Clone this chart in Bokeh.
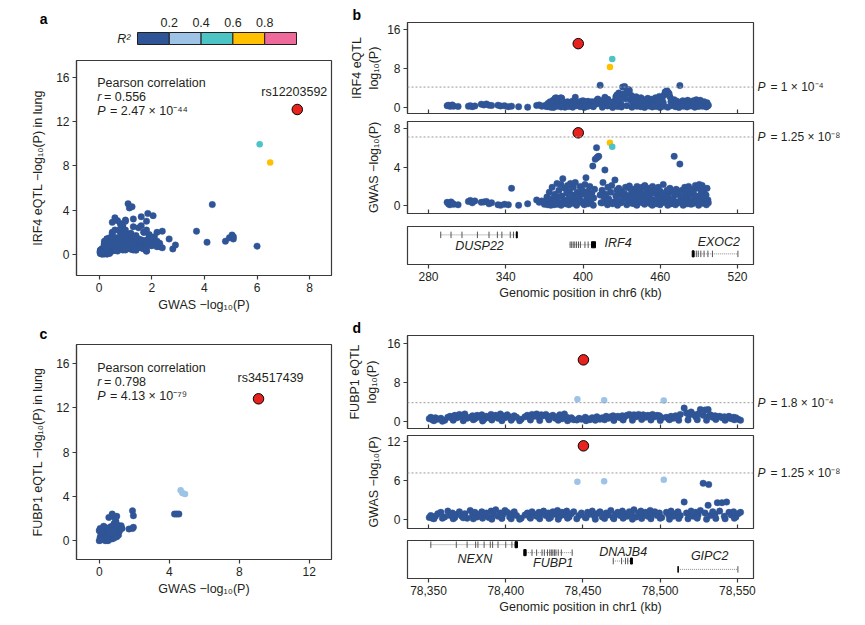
from bokeh.plotting import figure
from bokeh.layouts import row, column
from bokeh.models import Range1d, FixedTicker, Label, Span, NumeralTickFormatter, LinearAxis
from bokeh.embed import file_html
from bokeh.resources import INLINE
from bokeh.core.properties import value

FONT = "Liberation Sans"
INK = "#231f20"
FRAME = "#3a3a3a"
R2_BREAKS = [0.0, 0.2, 0.4, 0.6, 0.8, 1.0]
R2_TICKS = [0.2, 0.4, 0.6, 0.8]
R2_COLORS = ["#2f5597", "#9dc3e6", "#4cc3c4", "#ffc000", "#ee6a9b"]
LEAD_RED = "#e8231f"

# ---------------- chr6 / IRF4 locus (panels a, b) ----------------
chr6_left_pos = [294.5, 295.5, 296.5, 297.5, 298.5, 299.5, 303, 311, 312.5, 314,
                 316, 321, 323, 325, 327, 329, 334, 336, 339, 342,
                 344.5, 350, 357, 364, 366, 368, 370]
chr6_left_gwas = [0.35, 0.2, 0.1, 0.4, 0.25, 0.15, 0.1, 0.45, 0.55, 0.3,
                  0.5, 0.35, 0.4, 0.45, 0.2, 0.3, 0.1, 0.05, 0.15, 0.1,
                  1.8, 0.05, 0.2, 0.6, 0.35, 0.5, 0.15]
chr6_left_eqtl = [0.4, 0.5, 0.3, 0.35, 0.55, 0.3, 0.25, 0.3, 0.4, 0.2,
                  0.35, 0.7, 0.55, 0.75, 0.5, 0.45, 0.5, 0.35, 0.4, 0.2,
                  0.3, 0.2, 0.1, 0.45, 0.55, 0.3, 0.4]

chr6_core_pos = [371.0, 372.0, 373.0, 373.8, 374.5, 375.3, 376.0, 376.8, 377.5, 378.3,
                 379.0, 379.8, 380.5, 381.3, 382.0, 382.8, 383.5, 384.3, 385.0, 385.8,
                 386.5, 387.3, 388.0, 388.8, 389.5, 390.3, 391.0, 391.8, 392.5, 393.3,
                 394.0, 394.8, 395.5, 397.0, 397.8, 398.5, 399.3, 400.0, 400.8, 401.5,
                 402.3, 403.0, 403.8, 404.5, 405.3, 406.0, 406.8, 407.6, 408.3, 409.0,
                 409.5, 410.5, 410.8, 411.5, 412.2, 413.3, 414.0, 414.8, 415.5, 416.3,
                 417.0, 417.8, 418.5, 419.3, 420.0, 421.5, 422.3, 423.8, 424.8, 425.5,
                 426.3, 427.0, 427.8, 428.5, 429.3, 430.0, 430.8, 431.5, 432.3, 433.0,
                 433.8, 434.5, 435.3, 436.0, 436.8, 437.5, 438.3, 439.0, 439.8, 440.5,
                 441.3, 442.0, 442.8, 443.5, 444.3, 445.0, 445.8, 446.5, 447.3, 448.0,
                 448.8, 449.5, 450.3, 451.0, 451.8, 452.5, 453.3, 454.0, 454.8, 455.5,
                 456.3, 457.0, 457.8, 458.5, 459.3, 460.0, 460.8, 461.5, 462.3, 463.0,
                 463.8, 464.5, 465.3, 466.0, 466.8, 467.5, 468.3, 469.0, 469.8, 470.8,
                 471.5, 472.3, 473.0, 473.8, 475.2, 476.0, 476.8, 477.5, 478.3, 479.0,
                 479.8, 480.5, 481.3, 482.0, 482.8, 483.5, 484.3, 485.0, 485.8, 486.5,
                 487.3, 488.0, 488.8, 489.5, 490.3, 491.0, 491.8, 492.5, 493.3, 494.0,
                 494.8, 495.5, 496.3, 497.0]
chr6_core_gwas = [0.4, 0.9, 0.2, 1.4, 0.6, 0.3, 1.9, 0.8, 0.1, 1.2,
                  0.5, 2.3, 0.9, 1.6, 0.3, 2.2, 1.0, 2.8, 0.6, 1.8,
                  0.2, 1.3, 2.1, 0.7, 1.5, 2.3, 0.4, 1.1, 1.9, 0.8,
                  2.4, 0.3, 1.4, 0.9, 2.0, 0.5, 1.6, 1.2, 0.2, 2.2,
                  2.9, 0.7, 1.5, 1.0, 2.0, 0.4, 1.3, 4.1, 0.8, 1.7,
                  4.8, 6.0, 4.95, 5.05, 5.1, 1.1, 0.3, 1.6, 2.4, 0.9,
                  3.7, 1.2, 0.5, 1.9, 0.7, 1.4, 2.1, 0.4, 2.66, 1.0,
                  1.6, 0.6, 1.8, 1.2, 0.3, 1.5, 1.15, 0.8, 1.25, 1.9,
                  0.7, 1.0, 1.85, 2.05, 0.5, 1.3, 0.9, 1.7, 0.2, 1.4,
                  0.6, 2.0, 1.1, 0.4, 1.6, 0.8, 1.9, 0.3, 1.2, 2.1,
                  0.7, 1.5, 0.5, 1.8, 1.0, 0.2, 1.4, 2.0, 0.6, 1.3,
                  1.7, 0.4, 1.1, 1.9, 0.8, 1.5, 0.3, 1.2, 2.2, 0.9,
                  1.3, 0.6, 1.6, 1.0, 0.5, 1.8, 0.2, 1.4, 0.7, 5.1,
                  1.1, 1.7, 0.4, 1.3, 4.3, 0.8, 1.6, 0.3, 1.0, 1.9,
                  0.6, 1.4, 0.9, 2.0, 0.5, 1.2, 1.7, 0.2, 1.5, 0.8,
                  2.1, 1.0, 0.4, 1.8, 2.2, 0.7, 1.3, 2.1, 0.9, 1.6,
                  0.3, 1.1, 1.8, 0.6]
chr6_core_eqtl = [0.3, 0.6, 0.9, 0.4, 1.2, 0.5, 0.8, 1.5, 0.2, 1.9,
                  2.0, 1.0, 1.8, 0.6, 1.4, 2.0, 1.9, 0.5, 1.1, 0.3,
                  0.8, 0.4, 1.2, 0.6, 1.0, 0.7, 0.3, 1.3, 0.9, 0.5,
                  2.1, 1.1, 0.8, 0.4, 1.0, 1.3, 0.6, 1.4, 0.9, 1.2,
                  0.85, 0.3, 1.3, 0.7, 1.1, 0.5, 1.2, 1.1, 0.6, 0.9,
                  1.2, 0.75, 1.5, 1.75, 1.4, 4.58, 0.8, 1.3, 0.6, 1.6,
                  2.1, 0.5, 1.0, 1.7, 1.2, 0.4, 1.1, 0.7, 1.4, 2.2,
                  2.6, 1.5, 3.0, 1.9, 0.9, 2.4, 4.2, 2.8, 4.3, 1.8,
                  3.05, 3.0, 3.7, 3.5, 1.6, 2.5, 1.2, 2.0, 0.8, 1.5,
                  2.2, 1.0, 1.8, 0.6, 1.3, 2.0, 0.9, 1.4, 0.5, 1.6,
                  1.1, 0.7, 1.9, 1.2, 0.4, 1.0, 1.7, 0.8, 1.3, 0.6,
                  2.0, 1.5, 0.9, 1.4, 2.3, 1.1, 0.5, 1.8, 1.0, 2.6,
                  3.2, 3.3, 3.4, 3.1, 2.9, 2.2, 1.2, 1.6, 0.8, 1.6,
                  1.0, 0.5, 1.3, 0.7, 4.5, 1.1, 0.6, 1.4, 0.9, 1.2,
                  0.4, 1.0, 1.5, 0.8, 1.2, 0.5, 1.1, 0.8, 1.4, 0.6,
                  1.0, 1.6, 0.9, 1.3, 0.7, 1.5, 1.1, 0.9, 0.5, 1.2,
                  0.8, 0.6, 1.0, 0.4]

chr6_low_pos = [372.5, 375.0, 377.0, 380.0, 383.0, 386.0, 389.0, 392.0, 395.0, 398.0,
                401.0, 404.0, 408.0, 415.0, 419.0, 423.0, 426.8, 429.8, 434.0, 438.0,
                441.8, 444.8, 447.8, 450.8, 453.8, 456.8, 459.8, 462.8, 465.8, 468.8,
                471.8, 474.5, 477.8, 480.8, 483.8, 486.8, 489.8, 492.8, 495.8, 497.3]
chr6_low_gwas = [0.1, 0.05, 0.3, 0.15, 0.05, 0.4, 0.1, 0.25, 0.05, 0.35,
                 0.1, 0.2, 0.05, 0.3, 0.1, 0.2, 0.05, 0.35, 0.1, 0.25,
                 0.05, 0.4, 0.15, 0.3, 0.05, 0.2, 0.1, 0.35, 0.05, 0.25,
                 0.1, 0.3, 0.05, 0.2, 0.15, 0.35, 0.05, 0.25, 0.1, 0.3]
chr6_low_eqtl = [0.2, 0.1, 0.05, 0.3, 0.15, 0.1, 0.25, 0.1, 0.4, 0.2,
                 0.05, 0.3, 0.2, 0.1, 0.35, 0.05, 0.25, 0.15, 0.4, 0.1,
                 0.3, 0.2, 0.05, 0.35, 0.15, 0.25, 0.05, 0.3, 0.1, 0.4,
                 0.2, 0.05, 0.3, 0.15, 0.35, 0.1, 0.25, 0.3, 0.15, 0.5]

# linked SNPs coloured by R^2 (first = lead SNP rs12203592)
chr6_hit_pos = [396.3, 420.9, 422.7]
chr6_hit_gwas = [7.53, 6.5, 6.1]
chr6_hit_eqtl = [13.08, 8.3, 9.95]
chr6_hit_r2 = [1.0, 0.7, 0.5]
chr6_lead_name = "rs12203592"
chr6_eqtl_threshold = 4.2
chr6_gwas_threshold = 7.1
chr6_eqtl_thr_text = "= 1 × 10⁻⁴"
chr6_gwas_thr_text = "= 1.25 × 10⁻⁸"

chr6_genes = ["DUSP22", "IRF4", "EXOC2"]
chr6_gene_start = [289.3, 389.5, 484.8]
chr6_gene_end = [348.9, 409.7, 520.5]
chr6_gene_exons = [[289.5, 297.5, 306, 318, 327, 333.5, 337, 343.5, 346, 348.7],
                   [390, 391.2, 392.4, 393.6, 395, 396.5, 398, 401.5, 404],
                   [488, 489.5, 491.5, 494, 497, 500.5, 520.3]]
chr6_gene_block = [[348.2, 348.9], [406.6, 409.7], [484.8, 486.3]]

# ---------------- chr1 / FUBP1 locus (panels c, d) ----------------
chr1_pos = [78350.5, 78351.5, 78352.5, 78354.5, 78356.0, 78358.0, 78360.5, 78362.5, 78364.0, 78365.5,
            78367.0, 78368.5, 78370.0, 78371.5, 78373.5, 78375.0, 78377.0, 78378.5, 78380.0, 78381.5,
            78383.0, 78384.5, 78386.0, 78387.5, 78389.0, 78390.5, 78392.0, 78393.5, 78395.0, 78396.5,
            78398.0, 78399.5, 78401.0, 78402.5, 78404.0, 78405.5, 78407.0, 78410.0, 78412.5, 78414.0,
            78415.5, 78417.0, 78418.5, 78420.0, 78421.5, 78423.0, 78424.5, 78426.0, 78427.5, 78429.0,
            78430.5, 78432.0, 78433.5, 78435.0, 78436.5, 78438.0, 78439.5, 78441.0, 78442.5, 78444.0,
            78447.5, 78449.0, 78451.5, 78453.0, 78454.5, 78456.0, 78457.5, 78459.0, 78461.0, 78462.5,
            78465.0, 78466.5, 78468.0, 78469.5, 78471.0, 78472.5, 78474.0, 78475.5, 78477.0, 78478.5,
            78480.0, 78481.5, 78483.0, 78484.5, 78486.0, 78487.5, 78489.0, 78490.5, 78492.0, 78493.5,
            78495.0, 78496.5, 78498.0, 78499.5, 78501.0, 78504.0, 78505.5, 78507.0, 78508.5, 78510.0,
            78511.5, 78513.0, 78515.5, 78517.0, 78518.5, 78520.0, 78521.5, 78523.0, 78524.5, 78526.0,
            78527.8, 78529.0, 78531.0, 78531.4, 78532.5, 78534.0, 78535.5, 78537.0, 78538.5, 78540.0,
            78541.5, 78543.0, 78544.5, 78546.0, 78547.5, 78549.0, 78550.5, 78552.0]
chr1_gwas = [0.3, 0.6, 0.2, 0.5, 0.9, 1.1, 0.4, 1.3, 0.6, 1.0,
             0.3, 0.8, 1.2, 0.5, 0.9, 0.2, 1.4, 0.7, 1.1, 0.4,
             0.8, 1.2, 0.6, 1.0, 0.3, 1.3, 0.8, 1.5, 0.5, 1.0,
             0.7, 1.4, 1.1, 0.4, 0.9, 1.2, 0.6, 0.2, 0.7, 1.0,
             0.4, 1.2, 0.8, 0.5, 1.1, 0.9, 1.3, 0.6, 1.0, 0.3,
             1.2, 0.8, 1.4, 0.5, 1.1, 0.7, 1.3, 0.4, 0.9, 1.2,
             0.6, 1.0, 0.3, 1.1, 0.8, 1.3, 0.5, 0.9, 1.2, 0.4,
             1.0, 0.7, 1.4, 0.3, 0.8, 1.1, 0.6, 1.3, 0.9, 0.5,
             1.2, 0.8, 1.5, 0.4, 1.0, 1.3, 0.7, 1.1, 0.5, 1.4,
             0.9, 1.2, 0.6, 1.0, 0.3, 1.1, 0.7, 1.3, 0.5, 0.9,
             1.2, 0.6, 2.7, 1.0, 0.8, 1.3, 0.5, 1.1, 0.7, 1.4,
             5.6, 1.0, 2.2, 5.4, 0.6, 1.2, 0.8, 2.6, 1.3, 2.6,
             0.5, 2.7, 1.1, 0.7, 1.2, 0.4, 0.9, 1.1]
chr1_eqtl = [0.6, 0.9, 0.4, 0.8, 0.5, 0.7, 0.3, 0.9, 1.1, 0.6,
             1.3, 0.8, 1.5, 1.0, 1.6, 0.7, 0.9, 1.2, 0.6, 1.3,
             0.9, 1.4, 0.5, 1.1, 0.8, 1.5, 1.0, 1.3, 0.7, 1.6,
             1.2, 0.8, 1.4, 1.0, 0.6, 1.2, 0.9, 0.5, 1.0, 1.3,
             0.8, 1.5, 1.1, 1.6, 0.9, 1.4, 1.2, 1.5, 0.8, 1.1,
             1.3, 0.7, 1.0, 1.4, 0.6, 1.6, 0.9, 0.5, 0.8, 0.4,
             0.7, 0.5, 0.9, 0.6, 0.4, 0.8, 0.6, 1.0, 0.5, 0.8,
             1.1, 0.7, 1.0, 1.2, 0.9, 1.1, 0.8, 1.2, 1.0, 1.3,
             1.5, 1.1, 1.4, 1.0, 1.5, 1.2, 1.4, 0.9, 1.3, 1.1,
             1.5, 1.0, 1.3, 1.2, 0.8, 0.9, 0.6, 1.1, 0.7, 1.2,
             0.9, 1.5, 2.8, 1.8, 1.3, 2.0, 1.5, 1.0, 1.6, 2.5,
             1.3, 2.4, 2.5, 1.1, 1.4, 0.9, 1.2, 1.0, 1.1, 0.8,
             1.0, 0.7, 1.1, 0.6, 0.9, 0.8, 0.5, 0.3]

chr1_low_pos = [78353.5, 78359.0, 78366.0, 78372.5, 78379.0, 78385.0, 78391.0, 78397.5, 78403.5, 78409.0,
                78416.0, 78422.0, 78428.0, 78434.0, 78440.0, 78446.0, 78452.0, 78458.0, 78464.0, 78470.0,
                78476.0, 78482.0, 78488.0, 78494.0, 78500.0, 78506.0, 78512.0, 78518.0, 78524.0, 78530.0,
                78536.0, 78542.0, 78548.0]
chr1_low_gwas = [0.1, 0.2, 0.1, 0.25, 0.1, 0.2, 0.05, 0.15, 0.1, 0.05,
                 0.2, 0.1, 0.15, 0.05, 0.2, 0.1, 0.25, 0.05, 0.15, 0.1,
                 0.2, 0.05, 0.15, 0.1, 0.2, 0.05, 0.15, 0.1, 0.2, 0.05,
                 0.15, 0.1, 0.2]
chr1_low_eqtl = [0.2, 0.1, 0.3, 0.2, 0.4, 0.15, 0.35, 0.2, 0.3, 0.2,
                 0.35, 0.25, 0.4, 0.3, 0.2, 0.35, 0.2, 0.3, 0.4, 0.25,
                 0.35, 0.3, 0.45, 0.35, 0.25, 0.4, 0.3, 0.35, 0.4, 0.3,
                 0.45, 0.3, 0.4]

chr1_hit_pos = [78450.3, 78446.4, 78463.7, 78502.3]
chr1_hit_gwas = [11.4, 5.85, 5.9, 6.15]
chr1_hit_eqtl = [12.7, 4.6, 4.4, 4.35]
chr1_hit_r2 = [1.0, 0.3, 0.3, 0.3]
chr1_lead_name = "rs34517439"
chr1_eqtl_threshold = 3.9
chr1_gwas_threshold = 7.2
chr1_eqtl_thr_text = "= 1.8 × 10⁻⁴"
chr1_gwas_thr_text = "= 1.25 × 10⁻⁸"

# panel c correlation scatter (GWAS vs FUBP1 eQTL)
c_gwas = [0.0, 0.05, 0.1, 0.0, 0.05, 0.15, 0.2, 0.25, 0.2, 0.3,
          0.3, 0.35, 0.4, 0.45, 0.4, 0.5, 0.55, 0.5, 0.6, 0.55,
          0.65, 0.7, 0.75, 0.7, 0.8, 0.75, 0.85, 0.9, 0.95, 0.9,
          1.0, 1.05, 0.95, 1.1, 1.15, 1.2, 1.25, 0.15, 0.35, 0.6,
          0.25, 0.8, 1.0, 0.45, 0.1, 0.65, 0.85, 0.55, 0.74, 0.9,
          1.0, 1.3, 1.7, 1.9, 1.95, 1.9, 1.95, 4.3, 4.42, 4.55]
c_eqtl = [0.0, 0.3, 0.6, 0.9, 1.1, 0.2, 0.5, 0.8, 1.0, 1.2,
          0.1, 0.4, 0.7, 0.95, 1.15, 0.0, 0.3, 0.6, 0.85, 1.05,
          1.25, 0.15, 0.45, 0.75, 1.0, 1.3, 1.55, 0.3, 0.6, 0.9,
          1.15, 1.4, 1.75, 0.5, 0.85, 1.1, 1.35, 0.75, 0.0, 0.5,
          1.3, 0.2, 0.35, 0.25, 0.05, 0.95, 0.7, 2.1, 2.4, 2.05,
          2.2, 1.1, 1.05, 1.1, 1.2, 2.7, 2.25, 2.4, 2.4, 2.4]
c_hit_gwas = [9.1, 4.65, 4.75, 4.9]
c_hit_eqtl = [12.8, 4.55, 4.3, 4.2]
c_hit_r2 = [1.0, 0.3, 0.3, 0.3]

chr1_genes = ["NEXN", "FUBP1", "DNAJB4", "GIPC2"]
chr1_gene_start = [78351.3, 78411.7, 78469.5, 78511.6]
chr1_gene_end = [78407.4, 78443.2, 78482.0, 78550.4]
chr1_gene_exons = [[78351.5, 78368, 78375, 78380.5, 78382, 78386, 78390, 78391.5, 78395, 78400, 78404],
                   [78417, 78420, 78423.5, 78425, 78427, 78428.5, 78429.5, 78430.5, 78431.5, 78432.5, 78434, 78436, 78443],
                   [78469.6, 78475, 78477.5, 78479],
                   [78511.7, 78550.3]]
chr1_gene_block = [[78406.0, 78407.6], [78411.7, 78413.2], [78480.8, 78482.0], [78511.6, 78511.6]]

# gene-track layout (row heights / name placement in the 0..1 track)
chr6_track_row = [0.78, 0.52, 0.28]
chr6_name_x = [319.6, 427.3, 505.5]
chr6_name_y = [0.50, 0.56, 0.59]
chr1_track_row = [0.89, 0.68, 0.46, 0.24]
chr1_name_x = [78380.0, 78430.7, 78476.0, 78532.0]
chr1_name_y = [0.52, 0.40, 0.69, 0.58]


def r2_color(v):
    for i in range(5):
        if v < R2_BREAKS[i + 1]:
            return R2_COLORS[i]
    return R2_COLORS[-1]


def style_axis(ax):
    ax.axis_line_color = FRAME
    ax.axis_line_width = 1.2
    ax.major_tick_line_color = FRAME
    ax.major_tick_line_width = 1.2
    ax.minor_tick_line_color = None
    ax.major_tick_out = 4
    ax.major_tick_in = 0
    ax.major_label_text_font = FONT
    ax.major_label_text_font_size = "12px"
    ax.major_label_text_color = INK
    ax.major_label_standoff = 3
    ax.axis_label_text_font = FONT
    ax.axis_label_text_font_size = "12.5px"
    ax.axis_label_text_font_style = "normal"
    ax.axis_label_text_color = INK
    ax.axis_label_standoff = 3


def new_fig(fw, fh, xr, yr, bl, br, bt, bb):
    p = figure(frame_width=fw, frame_height=fh, x_range=xr, y_range=yr,
               min_border_left=bl, min_border_right=br, min_border_top=bt, min_border_bottom=bb,
               toolbar_location=None, output_backend="svg", tools="")
    p.outline_line_color = FRAME
    p.outline_line_width = 1.2
    p.grid.visible = False
    for ax in p.axis:
        style_axis(ax)
    return p


def panel_letter(p, letter, offset, standoff=0):
    p.title.text = letter
    p.title.align = "left"
    p.title.offset = offset
    p.title.standoff = standoff
    p.title.text_font = FONT
    p.title.text_font_size = "14px"
    p.title.text_font_style = "bold"
    p.title.text_color = "black"


def hide_x_labels(p):
    ax = p.xaxis[0]
    ax.major_tick_in = 4
    ax.major_tick_out = 0
    ax.major_label_text_color = None
    ax.major_label_standoff = 0


def threshold_note(p, level, text):
    # italic "P" followed by the rest of the annotation, placed on the right of the frame
    for txt, style, standoff in (("P", "italic", 4), (text, "normal", 2)):
        ax = LinearAxis(ticker=FixedTicker(ticks=[level]), major_label_overrides={level: txt})
        style_axis(ax)
        ax.axis_line_color = None
        ax.major_tick_line_color = None
        ax.major_tick_out = 0
        ax.major_label_standoff = standoff
        ax.major_label_text_font_style = style
        ax.major_label_text_font_size = "12px"
        p.add_layout(ax, "right")
    p.add_layout(Span(location=level, dimension="width", line_color="#9a9a9a",
                      line_dash="2 2", line_width=1))


def label(p, x, y, text, size="12.5px", style="normal", align="left", units="screen", **kw):
    p.add_layout(Label(x=x, y=y, x_units=units, y_units=units, text=text, text_font=FONT,
                       text_font_size=size, text_font_style=style, text_align=align,
                       text_baseline="middle", text_color=INK, **kw))


def bulk(p, xs, ys):
    p.scatter(xs, ys, size=6.5, fill_color=R2_COLORS[0], line_color=R2_COLORS[0], line_width=0.4)


def hits(p, xs, ys, r2):
    p.scatter(xs[1:], ys[1:], size=6.5, fill_color=[r2_color(v) for v in r2[1:]],
              line_color=None)
    p.scatter(xs[:1], ys[:1], size=10.5, fill_color=LEAD_RED, line_color="black", line_width=1)


def gene_track(p, starts, ends, exons, blocks, rows, names, nx, ny):
    p.segment(starts, rows, ends, rows, line_color="#8a8a8a", line_width=1, line_dash="1 1")
    ex_x, ex_y0, ex_y1 = [], [], []
    for g, lst in enumerate(exons):
        for e in lst:
            ex_x.append(e)
            ex_y0.append(rows[g] - 0.085)
            ex_y1.append(rows[g] + 0.085)
    p.segment(ex_x, ex_y0, ex_x, ex_y1, line_color="#555555", line_width=1)
    p.quad(left=[b[0] for b in blocks], right=[b[1] for b in blocks],
           bottom=[r - 0.08 for r in rows], top=[r + 0.08 for r in rows],
           fill_color="black", line_color="black", line_width=1)
    p.text(nx, ny, text=names, text_font=value(FONT), text_font_size="12.5px",
           text_font_style="italic", text_align="center", text_baseline="middle", text_color=INK)


chr6_pos = chr6_left_pos + chr6_core_pos + chr6_low_pos
chr6_gwas = chr6_left_gwas + chr6_core_gwas + chr6_low_gwas
chr6_eqtl = chr6_left_eqtl + chr6_core_eqtl + chr6_low_eqtl
chr1_all_pos = chr1_pos + chr1_low_pos
chr1_all_gwas = chr1_gwas + chr1_low_gwas
chr1_all_eqtl = chr1_eqtl + chr1_low_eqtl

# ---------------- legend strip (R^2 colour key + panel letter a) ----------------
leg = figure(frame_width=255, frame_height=50, x_range=Range1d(-0.3836, 1.2201),
             y_range=Range1d(50, 0), x_axis_type=None, y_axis_type=None,
             min_border_left=76, min_border_right=14, min_border_top=0, min_border_bottom=0,
             toolbar_location=None, output_backend="svg", tools="")
leg.outline_line_color = None
leg.grid.visible = False
leg.quad(left=R2_BREAKS[:-1], right=R2_BREAKS[1:], top=32, bottom=44,
         fill_color=R2_COLORS, line_color=INK, line_width=1)
leg.text(R2_TICKS, [22] * 4, text=[f"{t:.1f}" for t in R2_TICKS], text_font=value(FONT),
         text_font_size="12.5px", text_align="center", text_baseline="middle", text_color=INK)
leg.text([-0.045], [38], text=["R²"], text_font=value(FONT), text_font_size="12.5px",
         text_font_style="italic", text_align="right", text_baseline="middle", text_color=INK)
leg_axis = LinearAxis(ticker=FixedTicker(ticks=[18]), major_label_overrides={18: "a"})
style_axis(leg_axis)
leg_axis.axis_line_color = None
leg_axis.major_tick_line_color = None
leg_axis.major_tick_out = 0
leg_axis.major_label_standoff = 29
leg_axis.major_label_text_font_size = "14px"
leg_axis.major_label_text_font_style = "bold"
leg_axis.major_label_text_color = "black"
leg.add_layout(leg_axis, "left")

# ---------------- panel a ----------------
pa = new_fig(255, 215, Range1d(-0.86, 8.83), Range1d(-1.9, 17.5), 76, 14, 10, 38)
pa.xaxis.ticker = FixedTicker(ticks=[0, 2, 4, 6, 8])
pa.yaxis.ticker = FixedTicker(ticks=[0, 4, 8, 12, 16])
pa.xaxis.axis_label = "GWAS −log₁₀(P)"
pa.yaxis.axis_label = "IRF4 eQTL −log₁₀(P) in lung"
pa.yaxis.axis_label_standoff = 8
bulk(pa, chr6_gwas, chr6_eqtl)
hits(pa, chr6_hit_gwas, chr6_hit_eqtl, chr6_hit_r2)
label(pa, chr6_hit_gwas[0], chr6_hit_eqtl[0], chr6_lead_name, units="data", align="center",
      x_offset=-3, y_offset=17)
label(pa, 20.7, 193, "Pearson correlation")
label(pa, 20.7, 179, "r", style="italic")
label(pa, 27.5, 179, "= 0.556")
label(pa, 20.7, 165, "P", style="italic")
label(pa, 33.5, 165, "= 2.47 × 10⁻⁴⁴")

# ---------------- panel c ----------------
pc = new_fig(255, 215, Range1d(-1.3, 13.27), Range1d(-1.7, 17.7), 76, 14, 30, 67)
pc.xaxis.ticker = FixedTicker(ticks=[0, 4, 8, 12])
pc.yaxis.ticker = FixedTicker(ticks=[0, 4, 8, 12, 16])
pc.xaxis.axis_label = "GWAS −log₁₀(P)"
pc.yaxis.axis_label = "FUBP1 eQTL −log₁₀(P) in lung"
pc.yaxis.axis_label_standoff = 8
panel_letter(pc, "c", -37, standoff=5)
bulk(pc, c_gwas, c_eqtl)
hits(pc, c_hit_gwas, c_hit_eqtl, c_hit_r2)
label(pc, c_hit_gwas[0], c_hit_eqtl[0], chr1_lead_name, units="data", align="center",
      x_offset=12, y_offset=21)
label(pc, 20.7, 192, "Pearson correlation")
label(pc, 20.7, 177.5, "r", style="italic")
label(pc, 27.5, 177.5, "= 0.798")
label(pc, 20.7, 164, "P", style="italic")
label(pc, 33.5, 164, "= 4.13 × 10⁻⁷⁹")

# ---------------- panel b ----------------
chr6_xr = Range1d(263.7, 532.4)
chr6_ticks = [280, 340, 400, 460, 520]

b1 = new_fig(346, 91, chr6_xr, Range1d(-1.2, 17.4), 61, 113, 22, 4)
b1.yaxis.ticker = FixedTicker(ticks=[0, 8, 16])
b1.xaxis.ticker = FixedTicker(ticks=chr6_ticks)
hide_x_labels(b1)
b1.yaxis.axis_label = "IRF4 eQTL\nlog₁₀(P)"
panel_letter(b1, "b", -55)
threshold_note(b1, chr6_eqtl_threshold, chr6_eqtl_thr_text)
bulk(b1, chr6_pos, chr6_eqtl)
hits(b1, chr6_hit_pos, chr6_hit_eqtl, chr6_hit_r2)

b2 = new_fig(346, 92, chr6_xr, Range1d(-0.8, 8.7), 61, 113, 4, 5)
b2.yaxis.ticker = FixedTicker(ticks=[0, 4, 8])
b2.xaxis.ticker = FixedTicker(ticks=chr6_ticks)
hide_x_labels(b2)
b2.yaxis.axis_label = "GWAS −log₁₀(P)"
b2.yaxis.axis_label_standoff = 10
threshold_note(b2, chr6_gwas_threshold, chr6_gwas_thr_text)
bulk(b2, chr6_pos, chr6_gwas)
hits(b2, chr6_hit_pos, chr6_hit_gwas, chr6_hit_r2)

b3 = new_fig(346, 38, chr6_xr, Range1d(0, 1), 61, 113, 8, 46)
b3.yaxis.visible = False
b3.xaxis.ticker = FixedTicker(ticks=chr6_ticks)
b3.xaxis.axis_label = "Genomic position in chr6 (kb)"
b3.xaxis.axis_label_standoff = 2
gene_track(b3, chr6_gene_start, chr6_gene_end, chr6_gene_exons, chr6_gene_block,
           chr6_track_row, chr6_genes, chr6_name_x, chr6_name_y)

# ---------------- panel d ----------------
chr1_xr = Range1d(78336.4, 78560.4)
chr1_ticks = [78350, 78400, 78450, 78500, 78550]

d1 = new_fig(346, 93, chr1_xr, Range1d(-1.4, 17.7), 61, 113, 25, 3)
d1.yaxis.ticker = FixedTicker(ticks=[0, 8, 16])
d1.xaxis.ticker = FixedTicker(ticks=chr1_ticks)
hide_x_labels(d1)
d1.yaxis.axis_label = "FUBP1 eQTL\nlog₁₀(P)"
d1.yaxis.axis_label_standoff = 5
panel_letter(d1, "d", -55)
threshold_note(d1, chr1_eqtl_threshold, chr1_eqtl_thr_text)
bulk(d1, chr1_all_pos, chr1_all_eqtl)
hits(d1, chr1_hit_pos, chr1_hit_eqtl, chr1_hit_r2)

d2 = new_fig(346, 93, chr1_xr, Range1d(-1.4, 13.0), 61, 113, 4, 6)
d2.yaxis.ticker = FixedTicker(ticks=[0, 6, 12])
d2.xaxis.ticker = FixedTicker(ticks=chr1_ticks)
hide_x_labels(d2)
d2.yaxis.axis_label = "GWAS −log₁₀(P)"
threshold_note(d2, chr1_gwas_threshold, chr1_gwas_thr_text)
bulk(d2, chr1_all_pos, chr1_all_gwas)
hits(d2, chr1_hit_pos, chr1_hit_gwas, chr1_hit_r2)

d3 = new_fig(346, 38, chr1_xr, Range1d(0, 1), 61, 113, 6, 47)
d3.yaxis.visible = False
d3.xaxis.ticker = FixedTicker(ticks=chr1_ticks)
d3.xaxis.formatter = NumeralTickFormatter(format="0,0")
d3.xaxis.axis_label = "Genomic position in chr1 (kb)"
d3.xaxis.axis_label_standoff = 2
gene_track(d3, chr1_gene_start, chr1_gene_end, chr1_gene_exons, chr1_gene_block,
           chr1_track_row, chr1_genes, chr1_name_x, chr1_name_y)

layout = row(column(leg, pa, pc), column(b1, b2, b3, d1, d2, d3))

open("out.html", "w").write(file_html(layout, INLINE))
